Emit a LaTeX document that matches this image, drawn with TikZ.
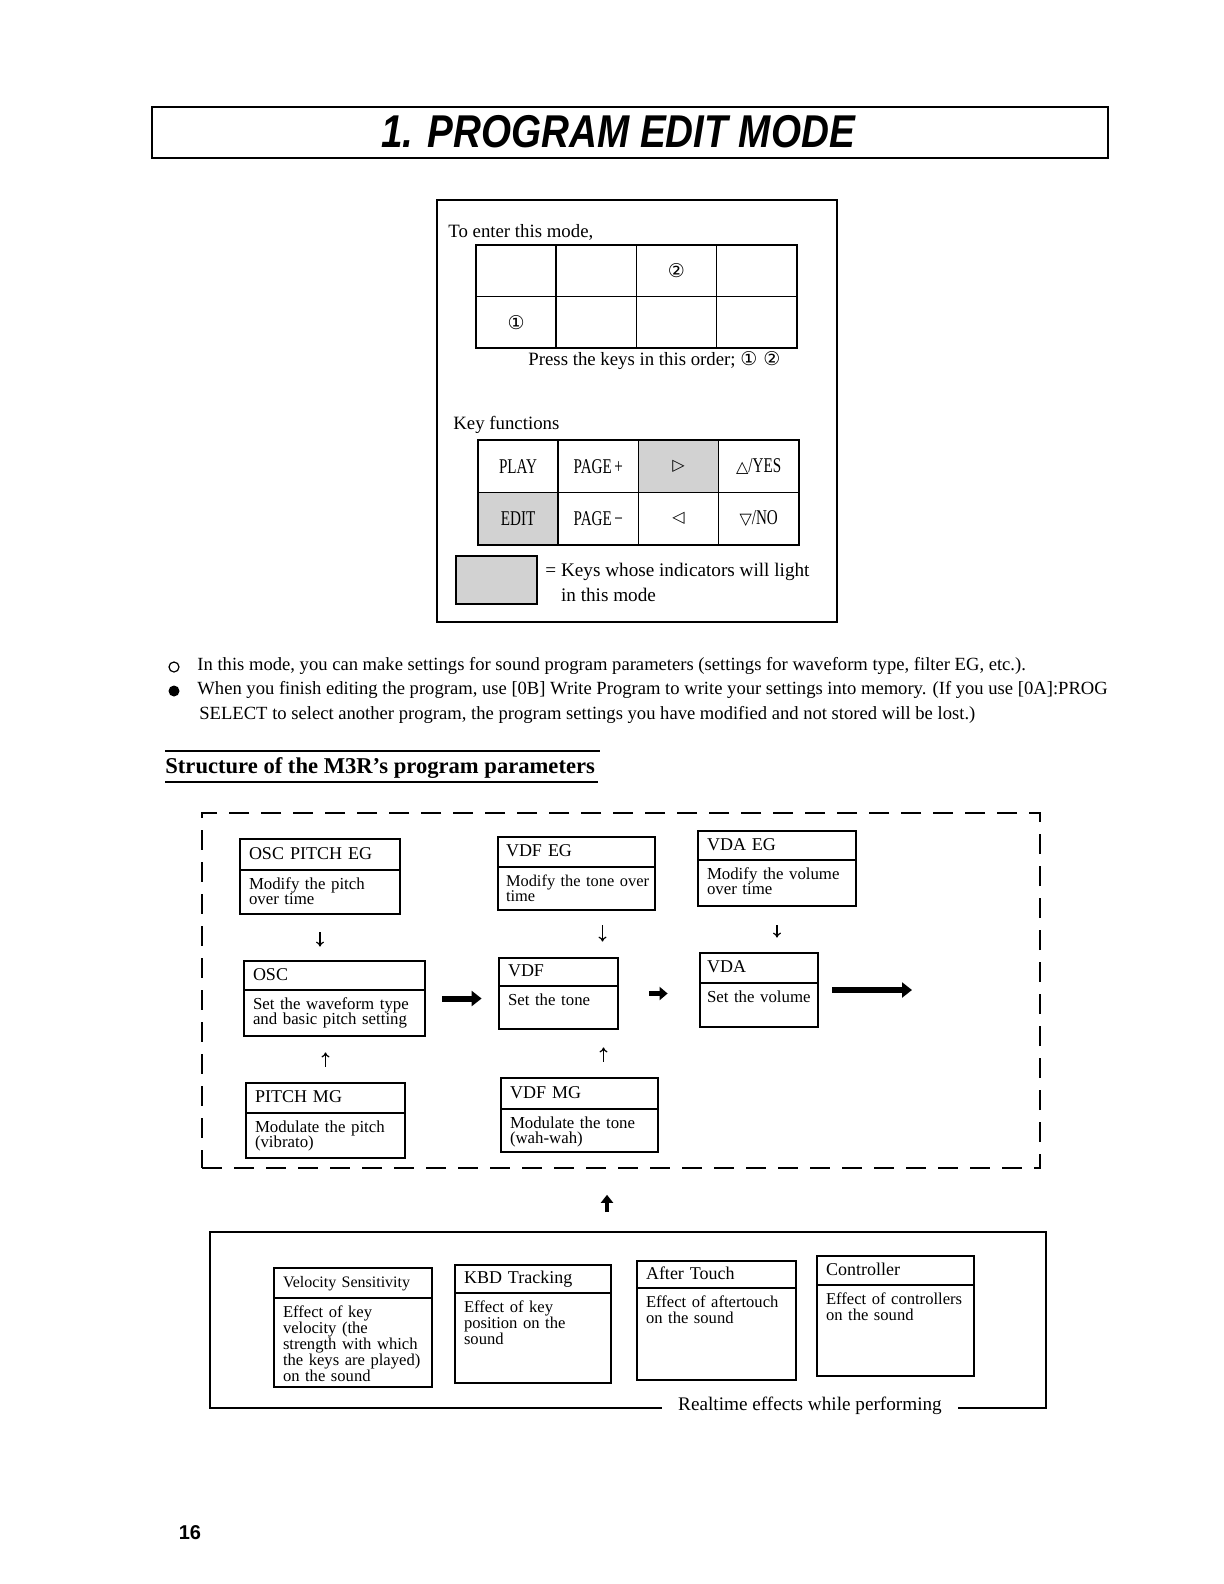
\documentclass[tikz,border=0pt]{standalone}
\usepackage{fontspec}
\setmainfont{Liberation Serif}
\newfontfamily\titlefont{Liberation Sans}
\newfontfamily\symfont{DejaVu Sans}
\usetikzlibrary{arrows.meta, positioning, fit, calc}

\newcommand{\keylbl}[1]{\scalebox{0.72}[1]{#1}}
\newcommand{\keysym}[1]{{\symfont\fontsize{8}{10}\selectfont #1}}

\begin{document}
\begin{tikzpicture}[
    x=0.5pt, y=-0.5pt,
    frame/.style={draw, line width=0.9pt, inner sep=0pt},
    dashbox/.style={draw, line width=0.8pt, dash pattern=on 10pt off 6pt, inner sep=0pt},
    cell/.style={draw, line width=0.8pt, outer sep=0pt, inner sep=0pt, minimum width=40.1pt},
    entrycell/.style={cell, minimum height=25.75pt},
    keycell/.style={cell, minimum height=26.25pt, font=\fontsize{10.5}{12}\selectfont},
    lit/.style={fill=gray!35},
    txt/.style={anchor=west, inner sep=0pt, font=\fontsize{9.3}{11}\selectfont},
    head/.style 2 args={draw, line width=0.7pt, outer sep=0pt, anchor=north west, inner xsep=4.5pt, inner ysep=0pt,
        align=left, text width=#1, minimum height=#2, text height=6.5pt, text depth=1.8pt,
        font=\fontsize{9}{11}\selectfont},
    desc/.style 2 args={draw, line width=0.7pt, outer sep=0pt, anchor=north west, inner xsep=4.5pt, inner ysep=3pt,
        align=left, text width=#1, text height=6.5pt, text depth=#2,
        font=\fontsize{8.4}{7.8}\selectfont},
    whole/.style={fit=#1, inner sep=0pt},
    thinarrow/.style={-{To[length=2.5pt,width=4pt]}, line width=0.6pt},
    fatarrow/.style={-{Triangle[length=5pt,width=7.5pt]}, line width=3pt},
    uparrow/.style={-{Triangle[length=4pt,width=6pt]}, line width=2pt}
]
\useasboundingbox (0,0) rectangle (1224,1584);

% Page title
\node[frame, line width=0.7pt, fit={(152,107) (1108,158)}] (titlebox) {};
\node (title) at (618,132) {\titlefont\bfseries\itshape\fontsize{23}{26}\selectfont\scalebox{0.84}[1]{1. PROGRAM EDIT MODE}};

% How to enter the mode
\node[frame, fit={(437,200) (837,622)}] (modebox) {};
\node[txt, font=\fontsize{9.4}{11}\selectfont] (entertxt) at (448,232) {To enter this mode,};

\node[entrycell, anchor=north west] (e11) at (476,245) {};
\node[entrycell, right=0pt of e11] (e12) {};
\node[entrycell, right=0pt of e12] (e13) {\symfont\fontsize{9.5}{11}\selectfont ②};
\node[entrycell, right=0pt of e13] (e14) {};
\node[entrycell, below=0pt of e11] (e21) {\symfont\fontsize{9.5}{11}\selectfont ①};
\node[entrycell, right=0pt of e21] (e22) {};
\node[entrycell, right=0pt of e22] (e23) {};
\node[entrycell, right=0pt of e23] (e24) {};

\node[txt, font=\fontsize{9.4}{11}\selectfont] (ordertxt) at (528,361)
    {Press the keys in this order;\ {\symfont\fontsize{9.5}{11}\selectfont ①\ ②}};

\node[txt, font=\fontsize{9.4}{11}\selectfont] (keytxt) at (453,425) {Key functions};

\node[keycell, anchor=north west] (k11) at (478,440) {\keylbl{PLAY}};
\node[keycell, right=0pt of k11] (k12) {\keylbl{PAGE\,+}};
\node[keycell, lit, right=0pt of k12] (k13) {\keysym{▷}};
\node[keycell, right=0pt of k13] (k14) {\keysym{△}\keylbl{/YES}};
\node[keycell, lit, below=0pt of k11] (k21) {\keylbl{EDIT}};
\node[keycell, right=0pt of k21] (k22) {\keylbl{PAGE\,−}};
\node[keycell, right=0pt of k22] (k23) {\keysym{◁}};
\node[keycell, right=0pt of k23] (k24) {\keysym{▽}\keylbl{/NO}};

\node[draw, lit, line width=0.8pt, anchor=north west, minimum width=40.5pt, minimum height=24pt] (litkey) at (455,555) {};
\node[anchor=north west, inner sep=0pt, align=left, font=\fontsize{9.6}{12.5}\selectfont] (littxt) at (545,563)
    {= Keys whose indicators will light\\\hphantom{= }in this mode};

% Notes
\node[circle, draw, line width=0.6pt, minimum size=5pt, inner sep=0pt] (dot1) at (174,667) {};
\node[circle, fill=black, minimum size=5.5pt, inner sep=0pt] (dot2) at (174,691) {};
\node[txt] (note1) at (197,666) {In this mode, you can make settings for sound program parameters (settings for waveform type, filter EG, etc.).};
\node[txt] (note2) at (197,690) {When you finish editing the program, use [0B] Write Program to write your settings into memory. (If you use [0A]:PROG};
\node[txt] (note3) at (199,715) {SELECT to select another program, the program settings you have modified and not stored will be lost.)};

% Section heading
\draw[line width=0.7pt] (165,751) -- (600,751);
\node[anchor=base west, inner sep=0pt, font=\fontsize{11.3}{13}\selectfont\bfseries] (heading) at (165,773)
    {Structure of the M3R’s program parameters};
\draw[line width=1.2pt] (165,782) -- (598,782);

% Parameter blocks
\node[dashbox, fit={(202,813) (1040,1168)}] (params) {};

\node[head={71pt}{15.5pt}] (oscEGt) at (240,839) {OSC PITCH EG};
\node[desc={71pt}{9.5pt}] (oscEGd) at (oscEGt.south west) {Modify the pitch\\over time};
\node[whole={(oscEGt)(oscEGd)}] (oscEG) {};

\node[head={81.5pt}{14.5pt}] (osct) at (244,961) {OSC};
\node[desc={81.5pt}{10.5pt}] (oscd) at (osct.south west) {Set the waveform type\\and basic pitch setting};
\node[whole={(osct)(oscd)}] (osc) {};

\node[head={70.5pt}{15pt}] (pitchMGt) at (246,1083) {PITCH MG};
\node[desc={70.5pt}{10pt}] (pitchMGd) at (pitchMGt.south west) {Modulate the pitch\\(vibrato)};
\node[whole={(pitchMGt)(pitchMGd)}] (pitchMG) {};

\node[head={73.5pt}{15pt}, inner xsep=2.5pt] (vdfEGt) at (498,837) {\hspace{1.5pt}VDF EG};
\node[desc={73.5pt}{9pt}, inner xsep=2.5pt, font=\fontsize{8.2}{7.8}\selectfont] (vdfEGd) at (vdfEGt.south west)
    {\hspace*{1.5pt}\mbox{Modify the tone over}\\\hspace*{1.5pt}time};
\node[whole={(vdfEGt)(vdfEGd)}] (vdfEG) {};

\node[head={50.5pt}{14pt}] (vdft) at (499,958) {VDF};
\node[desc={50.5pt}{9pt}] (vdfd) at (vdft.south west) {Set the tone};
\node[whole={(vdft)(vdfd)}] (vdf) {};

\node[head={69.5pt}{15.5pt}] (vdfMGt) at (501,1078) {VDF MG};
\node[desc={69.5pt}{9pt}] (vdfMGd) at (vdfMGt.south west) {Modulate the tone\\(wah-wah)};
\node[whole={(vdfMGt)(vdfMGd)}] (vdfMG) {};

\node[head={70pt}{14.5pt}] (vdaEGt) at (698,831) {VDA EG};
\node[desc={70pt}{10.5pt}] (vdaEGd) at (vdaEGt.south west) {Modify the volume\\over time};
\node[whole={(vdaEGt)(vdaEGd)}] (vdaEG) {};

\node[head={52pt}{15pt}, inner xsep=3.5pt] (vdat) at (700,953) {VDA};
\node[desc={52pt}{9.5pt}, inner xsep=3.5pt] (vdad) at (vdat.south west) {Set the volume};
\node[whole={(vdat)(vdad)}] (vda) {};

\draw[thinarrow, shorten <=9pt, shorten >=7pt] (oscEG.south) -- (oscEG.south |- osc.north);
\draw[thinarrow, shorten <=8pt, shorten >=8pt] (pitchMG.north) -- (pitchMG.north |- osc.south);
\coordinate (vdfin) at ([xshift=13pt]vdfEG.south);
\draw[thinarrow, shorten <=7.5pt, shorten >=8pt] (vdfin) -- (vdfin |- vdf.north);
\coordinate (vdfmod) at ([xshift=12pt]vdfMG.north);
\draw[thinarrow, shorten <=8pt, shorten >=9pt] (vdfmod) -- (vdfmod |- vdf.south);
\draw[thinarrow, shorten <=9.5pt, shorten >=7.5pt] (vdaEG.south) -- (vdaEG.south |- vda.north);

\draw[fatarrow, shorten <=8.5pt, shorten >=8.5pt] (osc.east) -- (osc.east -| vdf.west);
\draw[fatarrow, -{Triangle[length=4pt,width=6.5pt]}, line width=2.6pt, shorten <=15.5pt, shorten >=16pt]
    (vdf.east) -- (vdf.east -| vda.west);
\coordinate (out) at (912,990);
\draw[fatarrow, shorten <=7pt] (vda.east) -- (out);

% Realtime effects
\node[frame, fit={(210,1232) (1046,1408)}] (rtbox) {};
\coordinate (upfoot) at (607,1212);
\draw[uparrow, shorten >=13pt] (upfoot) -- (upfoot |- params.south);

\node[head={70pt}{15pt}, font=\fontsize{8}{10}\selectfont] (velt) at (274,1268) {Velocity Sensitivity};
\node[desc={70pt}{32pt}, font=\fontsize{8.3}{8}\selectfont] (veld) at (velt.south west)
    {Effect of key\\velocity (the\\strength with which\\the keys are played)\\on the sound};

\node[head={69pt}{14pt}] (kbdt) at (455,1265) {KBD Tracking};
\node[desc={69pt}{32.5pt}, font=\fontsize{8.3}{8}\selectfont] (kbdd) at (kbdt.south west)
    {Effect of key\\position on the\\sound};

\node[head={70.5pt}{13.5pt}] (aftt) at (637,1261) {After Touch};
\node[desc={70.5pt}{33.5pt}, font=\fontsize{8.3}{8}\selectfont] (aftd) at (aftt.south west)
    {Effect of aftertouch\\on the sound};

\node[head={69.5pt}{14.5pt}] (ctlt) at (817,1256) {Controller};
\node[desc={69.5pt}{33pt}, font=\fontsize{8.3}{8}\selectfont] (ctld) at (ctlt.south west)
    {Effect of controllers\\on the sound};

\node[fill=white, inner xsep=8pt, inner ysep=1pt, font=\fontsize{9.6}{11}\selectfont] (rtlabel) at (810,1406)
    {Realtime effects while performing};

% Page number
\node[font=\titlefont\bfseries\fontsize{10}{12}\selectfont] (pagenum) at (190,1533) {16};

\end{tikzpicture}
\end{document}
